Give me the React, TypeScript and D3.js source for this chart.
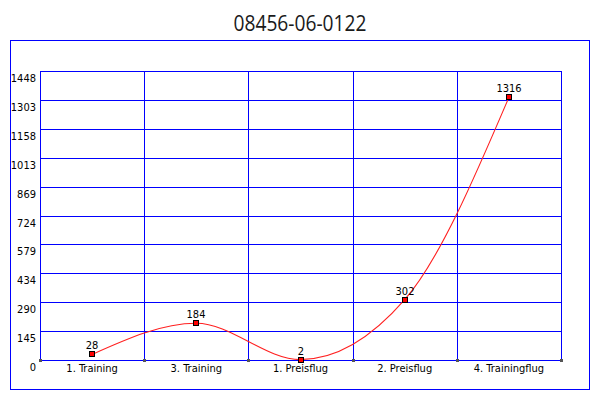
import React from 'react';
import { scaleBand, scaleLinear, line, curveMonotoneX } from 'd3';

const title = '08456-06-0122';
const categories = ['1. Training', '3. Training', '1. Preisflug', '2. Preisflug', '4. Trainingflug'];
const values = [28, 184, 2, 302, 1316];
const yMax = 1448;
const yTickLabels = ['0', '145', '290', '434', '579', '724', '869', '1013', '1158', '1303', '1448'];

const W = 600;
const H = 400;
const plot = { left: 40, right: 561, top: 71, bottom: 360 };
const font = '"DejaVu Sans Condensed", "Liberation Sans", sans-serif';

const App: React.FC = () => {
    const x = scaleBand<string>().domain(categories).range([plot.left, plot.right]);
    const y = scaleLinear().domain([0, yMax]).range([plot.bottom, plot.top]);
    const cx = (c: string) => (x(c) as number) + x.bandwidth() / 2;

    const path = line<number>()
        .x((_, i) => cx(categories[i]))
        .y(d => y(d))
        .curve(curveMonotoneX)(values) || '';

    const px = (v: number) => Math.round(v) + 0.5;
    const boundaries = [...categories.map(c => x(c) as number), plot.right];

    return (
        <div style={{ position: 'absolute', left: 0, top: 0 }}>
            <svg width={W} height={H} style={{ display: 'block', background: '#fff' }}>
                <text x={300} y={31} textAnchor="middle" textLength={133} lengthAdjust="spacingAndGlyphs"
                    fontFamily='"Open Sans", "Noto Sans", sans-serif'
                    fontSize={22} fill="#1a1a1a">{title}</text>

                {/* outer frame */}
                <rect x={10.5} y={40.5} width={579} height={349} fill="none" stroke="#0000ff" strokeWidth={1} />

                {/* grid */}
                <g stroke="#0000ff" strokeWidth={1} shapeRendering="crispEdges">
                    {yTickLabels.map((_, i) => {
                        const yy = px(y((yMax / 10) * i));
                        return <line key={'h' + i} x1={plot.left} x2={plot.right + 1} y1={yy} y2={yy} />;
                    })}
                    {boundaries.map((b, i) => (
                        <line key={'v' + i} x1={px(b)} x2={px(b)} y1={plot.top} y2={plot.bottom + 1} />
                    ))}
                </g>

                {/* baseline tick dots */}
                <g fill="#555">
                    {boundaries.map((b, i) => (
                        <rect key={i} x={Math.round(b) - 1} y={plot.bottom - 1} width={3} height={3} />
                    ))}
                </g>

                {/* y labels */}
                <g fontFamily={font} fontSize={11} fill="#000" textAnchor="end">
                    {yTickLabels.map((t, i) => (
                        <text key={i} x={36} y={Math.round(y((yMax / 10) * i)) + 11}>{t}</text>
                    ))}
                </g>

                {/* x labels */}
                <g fontFamily={font} fontSize={11} fill="#000" textAnchor="middle">
                    {categories.map(c => (
                        <text key={c} x={cx(c)} y={372}>{c}</text>
                    ))}
                </g>

                {/* series */}
                <path d={path} fill="none" stroke="#ff2020" strokeWidth={1.1} />
                {values.map((v, i) => {
                    const xx = Math.round(cx(categories[i]));
                    const yy = Math.round(y(v));
                    return (
                        <g key={i}>
                            <rect x={xx - 2.5} y={yy - 2.5} width={5} height={5} fill="#ff0000" stroke="#000" strokeWidth={1} />
                            <text x={xx} y={yy - 5} textAnchor="middle" fontFamily={font} fontSize={11} fill="#000">{v}</text>
                        </g>
                    );
                })}
            </svg>
        </div>
    );
};

export default App;
